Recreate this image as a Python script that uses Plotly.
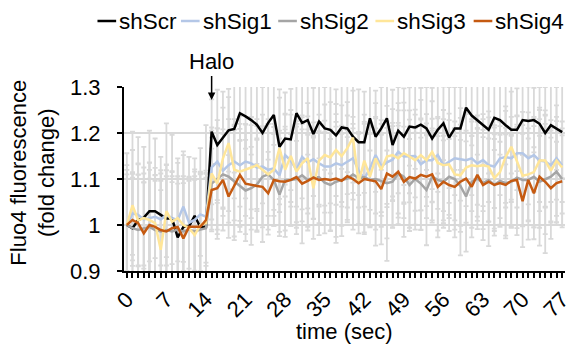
import plotly.graph_objects as go

time_sec = list(range(0, 78))
tick_vals = list(range(0, 78, 7))
tick_text = [str(v) for v in tick_vals]
y_tick_vals = [0.9, 1.0, 1.1, 1.2, 1.3]
y_tick_text = ["0.9", "1", "1.1", "1.2", "1.3"]
series_names = ["shScr", "shSig1", "shSig2", "shSig3", "shSig4"]

shScr = [1.0, 0.993, 1.011, 1.016, 1.03, 1.03, 1.022, 1.014, 1.014, 0.973, 0.996, 0.997, 1.02, 0.995, 0.996,
         1.203, 1.174, 1.19, 1.206, 1.209, 1.243, 1.236, 1.228, 1.218, 1.2, 1.222, 1.239, 1.17, 1.188, 1.186,
         1.243, 1.222, 1.228, 1.198, 1.225, 1.21, 1.207, 1.195, 1.212, 1.21, 1.192, 1.18, 1.18, 1.232, 1.192,
         1.21, 1.232, 1.174, 1.205, 1.192, 1.214, 1.212, 1.218, 1.21, 1.188, 1.207, 1.221, 1.19, 1.21, 1.21,
         1.255, 1.238, 1.228, 1.217, 1.207, 1.233, 1.228, 1.217, 1.207, 1.207, 1.228, 1.226, 1.228, 1.22, 1.2,
         1.217, 1.21, 1.202]
shSig1 = [1.0, 1.025, 1.022, 1.012, 1.015, 1.018, 1.012, 1.022, 1.015, 1.011, 1.04, 1.005, 1.011, 1.023, 1.018,
          1.125, 1.138, 1.118, 1.13, 1.138, 1.13, 1.138, 1.134, 1.125, 1.127, 1.12, 1.123, 1.108, 1.152, 1.14,
          1.12, 1.148, 1.136, 1.143, 1.134, 1.127, 1.127, 1.134, 1.13, 1.138, 1.145, 1.118, 1.101, 1.123, 1.152,
          1.128, 1.136, 1.142, 1.159, 1.149, 1.149, 1.15, 1.132, 1.141, 1.141, 1.152, 1.13, 1.138, 1.145, 1.143,
          1.141, 1.145, 1.134, 1.141, 1.13, 1.127, 1.145, 1.148, 1.145, 1.156, 1.156, 1.145, 1.152, 1.14, 1.138,
          1.13, 1.145, 1.13]
shSig2 = [1.0, 0.993, 0.989, 0.993, 0.996, 0.989, 0.986, 0.989, 0.986, 0.99, 0.986, 0.99, 0.986, 0.99, 0.993,
          1.09, 1.1, 1.11, 1.105, 1.095, 1.085, 1.075, 1.08, 1.088, 1.105, 1.11, 1.098, 1.066, 1.098, 1.098,
          1.1, 1.108, 1.098, 1.104, 1.104, 1.092, 1.087, 1.094, 1.098, 1.101, 1.11, 1.102, 1.104, 1.098, 1.1,
          1.096, 1.091, 1.094, 1.112, 1.105, 1.087, 1.1, 1.09, 1.076, 1.105, 1.098, 1.094, 1.105, 1.1, 1.085,
          1.062, 1.094, 1.101, 1.091, 1.098, 1.087, 1.096, 1.091, 1.094, 1.103, 1.098, 1.098, 1.105, 1.094, 1.1,
          1.105, 1.116, 1.1]
shSig3 = [1.0, 1.043, 1.01, 1.015, 1.011, 1.004, 0.946, 1.03, 1.007, 1.015, 1.0, 0.993, 0.978, 1.0, 1.004,
          1.112, 1.09, 1.145, 1.178, 1.12, 1.116, 1.12, 1.125, 1.13, 1.12, 1.11, 1.12, 1.167, 1.12, 1.15,
          1.116, 1.134, 1.145, 1.08, 1.14, 1.152, 1.147, 1.163, 1.15, 1.167, 1.19, 1.092, 1.14, 1.105, 1.145,
          1.12, 1.149, 1.152, 1.145, 1.156, 1.149, 1.141, 1.152, 1.141, 1.159, 1.135, 1.13, 1.132, 1.11, 1.108,
          1.125, 1.13, 1.128, 1.13, 1.127, 1.102, 1.115, 1.148, 1.17, 1.138, 1.107, 1.11, 1.115, 1.14, 1.14,
          1.118, 1.14, 1.125]
shSig4 = [1.0, 1.011, 1.004, 0.982, 1.0, 0.996, 0.989, 0.986, 0.993, 0.996, 0.971, 0.996, 0.996, 0.996, 1.011,
          1.076, 1.08, 1.098, 1.062, 1.087, 1.109, 1.09, 1.087, 1.085, 1.083, 1.069, 1.098, 1.095, 1.094, 1.098,
          1.104, 1.09, 1.096, 1.103, 1.098, 1.1, 1.098, 1.101, 1.096, 1.106, 1.1, 1.091, 1.1, 1.098, 1.095,
          1.078, 1.112, 1.105, 1.116, 1.094, 1.104, 1.101, 1.109, 1.105, 1.11, 1.083, 1.094, 1.087, 1.083, 1.094,
          1.101, 1.083, 1.109, 1.087, 1.094, 1.087, 1.091, 1.087, 1.096, 1.098, 1.052, 1.098, 1.069, 1.105, 1.094,
          1.08, 1.091, 1.095]

err_shScr = [0.156, 0.21, 0.18, 0.154, 0.175, 0.158, 0.126, 0.207, 0.182, 0.172, 0.156, 0.151, 0.125, 0.172, 0.221,
             0.07, 0.12, 0.1, 0.09, 0.095, 0.06, 0.07, 0.075, 0.085, 0.1, 0.08, 0.065, 0.125, 0.1, 0.11,
             0.06, 0.08, 0.075, 0.1, 0.08, 0.09, 0.095, 0.1, 0.09, 0.095, 0.1, 0.115, 0.11, 0.07, 0.1,
             0.09, 0.07, 0.12, 0.095, 0.105, 0.085, 0.09, 0.08, 0.09, 0.11, 0.095, 0.08, 0.11, 0.09, 0.09,
             0.05, 0.065, 0.075, 0.085, 0.095, 0.07, 0.075, 0.085, 0.095, 0.09, 0.075, 0.075, 0.07, 0.08, 0.1,
             0.085, 0.09, 0.1]
err_shSig1 = [0.1, 0.09, 0.11, 0.1, 0.12, 0.09, 0.1, 0.11, 0.1, 0.09, 0.12, 0.1, 0.11, 0.09, 0.1,
              0.08, 0.09, 0.08, 0.1, 0.08, 0.09, 0.08, 0.1, 0.09, 0.08, 0.1, 0.09, 0.08, 0.09, 0.1,
              0.08, 0.09, 0.1, 0.08, 0.09, 0.1, 0.08, 0.09, 0.08, 0.1, 0.09, 0.08, 0.1, 0.09, 0.08,
              0.1, 0.09, 0.08, 0.09, 0.1, 0.08, 0.09, 0.1, 0.08, 0.09, 0.08, 0.1, 0.09, 0.08, 0.09,
              0.1, 0.08, 0.09, 0.1, 0.08, 0.09, 0.08, 0.1, 0.09, 0.08, 0.09, 0.1, 0.08, 0.09, 0.1,
              0.08, 0.09, 0.08]
err_shSig2 = [0.13, 0.11, 0.12, 0.1, 0.14, 0.12, 0.11, 0.13, 0.12, 0.1, 0.12, 0.11, 0.13, 0.12, 0.11,
              0.1, 0.11, 0.09, 0.1, 0.12, 0.1, 0.11, 0.09, 0.1, 0.11, 0.12, 0.1, 0.09, 0.11, 0.1,
              0.12, 0.1, 0.11, 0.09, 0.1, 0.11, 0.1, 0.12, 0.1, 0.09, 0.11, 0.1, 0.12, 0.1, 0.11,
              0.1, 0.12, 0.1, 0.11, 0.09, 0.1, 0.11, 0.1, 0.12, 0.1, 0.11, 0.1, 0.09, 0.11, 0.1,
              0.12, 0.1, 0.11, 0.1, 0.09, 0.11, 0.1, 0.12, 0.1, 0.11, 0.1, 0.09, 0.11, 0.1, 0.12,
              0.1, 0.11, 0.1]
err_shSig3 = [0.11, 0.12, 0.1, 0.11, 0.09, 0.12, 0.13, 0.1, 0.11, 0.12, 0.1, 0.11, 0.12, 0.1, 0.11,
              0.1, 0.12, 0.11, 0.1, 0.11, 0.12, 0.1, 0.11, 0.1, 0.12, 0.11, 0.1, 0.11, 0.12, 0.1,
              0.11, 0.1, 0.12, 0.11, 0.1, 0.11, 0.12, 0.1, 0.11, 0.1, 0.12, 0.11, 0.1, 0.11, 0.12,
              0.1, 0.11, 0.1, 0.12, 0.11, 0.1, 0.11, 0.12, 0.1, 0.11, 0.1, 0.12, 0.11, 0.1, 0.11,
              0.12, 0.1, 0.11, 0.1, 0.12, 0.11, 0.1, 0.11, 0.12, 0.1, 0.11, 0.1, 0.12, 0.11, 0.1,
              0.11, 0.12, 0.1]
err_shSig4 = [0.12, 0.1, 0.13, 0.11, 0.12, 0.1, 0.13, 0.12, 0.1, 0.11, 0.12, 0.1, 0.11, 0.12, 0.1,
              0.09, 0.1, 0.11, 0.09, 0.12, 0.1, 0.11, 0.13, 0.1, 0.12, 0.09, 0.1, 0.11, 0.12, 0.1,
              0.11, 0.13, 0.1, 0.09, 0.12, 0.1, 0.11, 0.14, 0.12, 0.1, 0.11, 0.09, 0.12, 0.1, 0.14,
              0.12, 0.19, 0.11, 0.1, 0.12, 0.11, 0.1, 0.12, 0.09, 0.1, 0.11, 0.09, 0.1, 0.11, 0.16,
              0.1, 0.11, 0.1, 0.12, 0.14, 0.1, 0.09, 0.11, 0.1, 0.12, 0.1, 0.13, 0.1, 0.15, 0.155,
              0.11, 0.09, 0.1]

values = [shScr, shSig1, shSig2, shSig3, shSig4]
errors = [err_shScr, err_shSig1, err_shSig2, err_shSig3, err_shSig4]
colors = ["#000000", "#b4c7e7", "#a5a5a5", "#ffe699", "#c55a11"]

FONT = "Liberation Sans, Arial, sans-serif"
W, H = 576, 349
L, R, T, B = 124, 3, 87, 78
PW, PH = W - L - R, H - T - B

fig = go.Figure()

# error bars first (behind all lines)
for name, vals, err in zip(series_names, values, errors):
    fig.add_trace(go.Scatter(
        x=time_sec, y=vals, mode="lines",
        line=dict(color="rgba(0,0,0,0)", width=0),
        error_y=dict(type="data", array=err, color="#d9d9d9", thickness=1.8, width=2.5),
        showlegend=False, hoverinfo="skip"))

for name, vals, col in zip(series_names, values, colors):
    fig.add_trace(go.Scatter(
        x=time_sec, y=vals, mode="lines", name=name,
        line=dict(color=col, width=2.5), showlegend=False))

def px_x(px):
    return (px - L) / PW

def px_y(py):
    return (H - B - py) / PH

# custom compact legend (line key + label)
legend_starts = [97, 182, 281, 380, 480]
key_len = 19
legend_y = 21
shapes = []
annotations = []
for name, col, x0 in zip(series_names, colors, legend_starts):
    shapes.append(dict(type="line", xref="paper", yref="paper",
                       x0=px_x(x0), x1=px_x(x0 + key_len), y0=px_y(legend_y), y1=px_y(legend_y),
                       line=dict(color=col, width=2.5)))
    annotations.append(dict(text=name, xref="paper", yref="paper",
                            x=px_x(x0 + key_len + 1), y=px_y(legend_y),
                            xanchor="left", yanchor="middle", showarrow=False,
                            font=dict(family=FONT, size=22.5, color="#000000")))

# Halo arrow
annotations.append(dict(text="Halo", x=15, y=1.272, xref="x", yref="y",
                        showarrow=True, arrowhead=2, arrowsize=1, arrowwidth=1.5,
                        arrowcolor="#000000", ax=0, ay=-38,
                        font=dict(family=FONT, size=22, color="#000000")))

# axis titles
annotations.append(dict(text="Fluo4 fluorescence<br>(fold change)", xref="paper", yref="paper",
                        x=px_x(31), y=px_y(173), textangle=-90, showarrow=False,
                        xanchor="center", yanchor="middle",
                        font=dict(family=FONT, size=22, color="#000000")))
annotations.append(dict(text="time (sec)", xref="paper", yref="paper",
                        x=0.5, y=px_y(331), showarrow=False,
                        xanchor="center", yanchor="middle",
                        font=dict(family=FONT, size=22, color="#000000")))

fig.update_layout(
    width=W, height=H,
    margin=dict(l=L, r=R, t=T, b=B),
    paper_bgcolor="white", plot_bgcolor="white",
    showlegend=False,
    shapes=shapes, annotations=annotations,
    font=dict(family=FONT, size=22, color="#000000"),
)
fig.update_xaxes(
    range=[-0.5, 77.5], tickmode="array", tickvals=tick_vals, ticktext=tick_text,
    tickangle=-45, ticks="outside", ticklen=5, tickwidth=1.5, tickcolor="#000000",
    minor=dict(dtick=1, tick0=0, ticks="outside", ticklen=5, tickwidth=1.5, tickcolor="#000000"),
    showline=True, linecolor="#000000", linewidth=2, showgrid=False, zeroline=False,
    tickfont=dict(family=FONT, size=22, color="#000000"), ticklabeloverflow="allow",
)
fig.update_yaxes(
    range=[0.9, 1.3], tickmode="array", tickvals=y_tick_vals, ticktext=y_tick_text,
    ticks="outside", ticklen=5, tickwidth=2, tickcolor="#000000",
    showline=True, linecolor="#000000", linewidth=2,
    showgrid=True, gridcolor="#d9d9d9", gridwidth=2, zeroline=False,
    tickfont=dict(family=FONT, size=22, color="#000000"), ticklabelstandoff=12,
)

fig.write_html("out.html", config={"displayModeBar": False},
               post_script="document.body.style.margin='0';document.body.style.padding='0';")
